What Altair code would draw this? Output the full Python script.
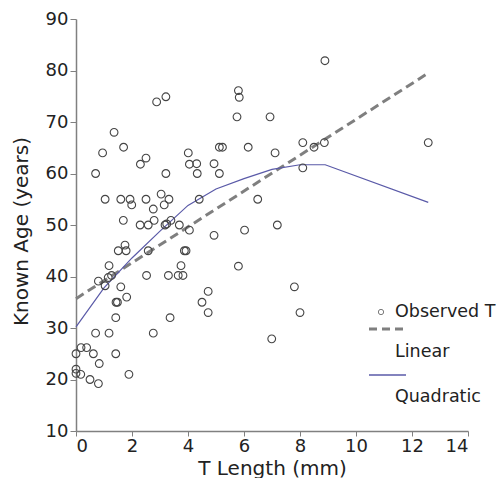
import altair as alt
import pandas as pd

# ---- data ----
t_length = [0.0, 0.0, 0.0, 0.17, 0.18, 0.38, 0.5, 0.62, 0.8, 0.83,
            0.7, 0.7, 0.8, 0.95, 1.04, 1.04, 1.15, 1.27, 1.18, 1.18,
            1.36, 1.42, 1.42, 1.43, 1.48, 1.51, 1.6, 1.6, 1.69, 1.70,
            1.75, 1.79, 1.81, 1.89, 1.93, 1.99, 2.29, 2.30, 2.5, 2.5,
            2.52, 2.58, 2.58, 2.76, 2.76, 2.79, 2.88, 3.04, 3.15, 3.18,
            3.21, 3.21, 3.24, 3.30, 3.32, 3.36, 3.39, 3.65, 3.69, 3.75,
            3.82, 3.87, 3.93, 4.01, 4.05, 4.05, 4.31, 4.33, 4.40, 4.50,
            4.72, 4.72, 4.93, 4.93, 5.12, 5.23, 5.12, 5.75, 5.80, 5.83,
            5.80, 6.02, 6.15, 6.49, 6.93, 6.99, 7.11, 7.19, 7.80, 8.0,
            8.1, 8.1, 8.5, 8.87, 8.89, 12.58]
known_age = [25.0, 22.0, 21.2, 21.0, 26.2, 26.2, 20.0, 25.0, 19.2, 23.1,
             29.0, 60.0, 39.1, 64.0, 55.0, 38.2, 39.8, 40.2, 42.1, 29.0,
             68.0, 32.0, 25.0, 35.0, 35.0, 45.0, 55.0, 38.0, 50.9, 65.1,
             46.1, 45.0, 36.0, 21.0, 55.0, 53.9, 50.0, 61.8, 63.0, 55.0,
             40.2, 50.0, 45.0, 53.1, 29.0, 50.9, 73.9, 56.0, 53.9, 50.0,
             74.9, 60.0, 50.2, 40.2, 55.0, 32.0, 50.9, 40.2, 50.0, 42.1,
             40.2, 45.0, 45.0, 64.0, 61.8, 49.0, 61.9, 60.0, 55.0, 35.0,
             37.1, 33.0, 61.9, 48.0, 65.1, 65.1, 60.0, 71.0, 76.1, 74.8,
             42.0, 49.0, 65.1, 55.0, 71.0, 27.9, 64.0, 50.0, 38.0, 33.0,
             66.0, 61.1, 65.1, 66.0, 81.9, 66.0]

linear_x = [0.0, 12.58]
linear_y = [35.7, 79.5]

quad_x = [0.0, 1.0, 2.0, 3.0, 4.0, 5.0, 6.0, 7.0, 8.0, 8.9, 12.58]
quad_y = [30.2, 37.8, 43.6, 48.8, 53.8, 57.0, 59.0, 60.8, 61.7, 61.7, 54.4]

legend_labels = ["Observed T", "Linear", "Quadratic"]
x_ticks = [0, 2, 4, 6, 8, 10, 12, 14]
y_ticks = [10, 20, 30, 40, 50, 60, 70, 80, 90]

FONT = "DejaVu Sans"
AXIS_GRAY = "#808080"
TEXT = "#222222"
PLOT_H = 412

pts = pd.DataFrame({"T": t_length, "Age": known_age})
lin = pd.DataFrame({"T": linear_x, "Age": linear_y})
quad = pd.DataFrame({"T": quad_x, "Age": quad_y})

xs = alt.Scale(domain=[0, 14], nice=False, zero=False)
ys = alt.Scale(domain=[10, 90], nice=False, zero=False)

x_enc = alt.X("T:Q", scale=xs, axis=alt.Axis(
    values=x_ticks, title="T Length (mm)", grid=False,
    domainColor=AXIS_GRAY, domainWidth=1.5, tickColor=AXIS_GRAY, tickSize=5,
    labelFontSize=18, labelFont=FONT, labelColor=TEXT, labelPadding=1,
    titleFontSize=20, titleFont=FONT, titleFontWeight="normal", titleColor=TEXT,
    titleBaseline="alphabetic", titleY=43))
y_enc = alt.Y("Age:Q", scale=ys, axis=alt.Axis(
    values=y_ticks, title="Known Age (years)", grid=False,
    domainColor=AXIS_GRAY, domainWidth=1.5, tickColor=AXIS_GRAY, tickSize=6,
    labelFontSize=18, labelFont=FONT, labelColor=TEXT, labelPadding=2,
    titleFontSize=20, titleFont=FONT, titleFontWeight="normal", titleColor=TEXT,
    titleBaseline="alphabetic", titleX=-49, titleY=212, titleAngle=-90))

points = alt.Chart(pts).mark_point(
    shape="circle", filled=False, size=60, stroke="#454545", strokeWidth=1.1, opacity=1
).encode(x=x_enc, y=y_enc)

linear = alt.Chart(lin).mark_line(
    color="#7f7f7f", strokeWidth=3, strokeDash=[9, 5]
).encode(x=x_enc, y=y_enc)

quadratic = alt.Chart(quad).mark_line(
    color="#5a5aa8", strokeWidth=1.2
).encode(x=x_enc, y=y_enc)

# ---- hand-built legend (symbols above the line labels, as in the reference) ----
lg = pd.DataFrame({"label": legend_labels})
leg_circle = alt.Chart(lg.iloc[[0]]).mark_point(
    shape="circle", filled=False, size=28, stroke="#454545", strokeWidth=1
).encode(x=alt.value(305), y=alt.value(293))
leg_dash = alt.Chart(lg.iloc[[1]]).mark_rule(
    color="#7f7f7f", strokeWidth=3, strokeDash=[8, 5]
).encode(x=alt.value(293), x2=alt.value(330), y=alt.value(310))
leg_solid = alt.Chart(lg.iloc[[2]]).mark_rule(
    color="#5a5aa8", strokeWidth=1.5
).encode(x=alt.value(293), x2=alt.value(330), y=alt.value(356))

def leg_text(i, ypix):
    return alt.Chart(lg.iloc[[i]]).mark_text(
        align="left", baseline="middle", fontSize=17.5, font=FONT, color=TEXT
    ).encode(x=alt.value(319), y=alt.value(ypix), text="label:N")

chart = alt.layer(
    linear, quadratic, points,
    leg_circle, leg_dash, leg_solid,
    leg_text(0, 293), leg_text(1, 332.5), leg_text(2, 377.5),
).properties(
    width=392, height=PLOT_H,
    autosize=alt.AutoSizeParams(type="none"),
    padding={"left": 68, "top": 11, "right": 28, "bottom": 47},
    background="white",
).configure_view(stroke=None)

chart.save("out.html", embed_options={"renderer": "svg", "actions": False})
